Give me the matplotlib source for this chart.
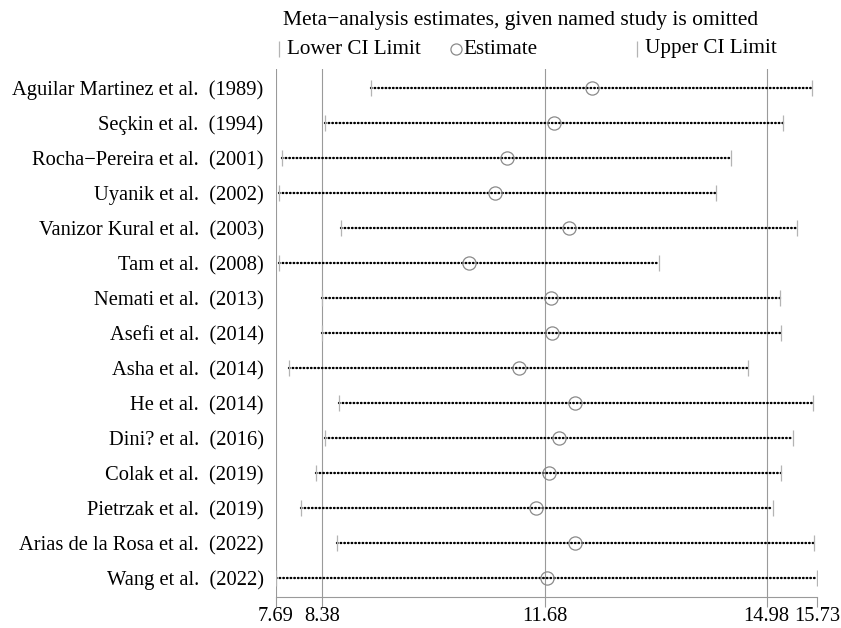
import numpy as np
import matplotlib.pyplot as plt
from matplotlib.lines import Line2D

plt.rcParams['font.family'] = ['Liberation Serif', 'DejaVu Serif']

studies = ["Aguilar Martinez et al.  (1989)", "Seçkin et al.  (1994)",
           "Rocha\u2212Pereira et al.  (2001)", "Uyanik et al.  (2002)",
           "Vanizor Kural et al.  (2003)", "Tam et al.  (2008)",
           "Nemati et al.  (2013)", "Asefi et al.  (2014)", "Asha et al.  (2014)",
           "He et al.  (2014)", "Dini? et al.  (2016)", "Colak et al.  (2019)",
           "Pietrzak et al.  (2019)", "Arias de la Rosa et al.  (2022)",
           "Wang et al.  (2022)"]
lower = [9.10, 8.42, 7.78, 7.74, 8.65, 7.73, 8.37, 8.37, 7.88, 8.62, 8.42, 8.28, 8.06, 8.59, 7.69]
estimate = [12.38, 11.82, 11.12, 10.95, 12.04, 10.56, 11.77, 11.79, 11.30, 12.14, 11.89, 11.74, 11.56, 12.14, 11.71]
upper = [15.66, 15.22, 14.45, 14.23, 15.43, 13.38, 15.18, 15.20, 14.71, 15.67, 15.38, 15.19, 15.07, 15.68, 15.73]

# pooled result with all studies
pooled_lo, pooled_est, pooled_hi = 8.38, 11.68, 14.98

xmin, xmax = min(lower), max(upper)
xticks = [xmin, pooled_lo, pooled_est, pooled_hi, xmax]

grey = '#9a9a9a'
light = '#b4b4b4'
fs = 14.8

fig = plt.figure(figsize=(8.41, 6.28), dpi=100)
ax = fig.add_axes([0.3282, 0.0494, 0.6433, 0.8407])

y = np.arange(len(studies))

for v in [xmin, pooled_lo, pooled_est, pooled_hi]:
    ax.axvline(v, color=grey, lw=0.8, zorder=1)

for i in range(len(studies)):
    ax.plot([lower[i], upper[i]], [y[i], y[i]], color='black', lw=1.7,
            linestyle=(0, (0.25, 1.3)), dash_capstyle='round', zorder=2)
ax.plot(lower, y, linestyle='none', marker='|', ms=12, mew=0.9, color=light, zorder=3)
ax.plot(upper, y, linestyle='none', marker='|', ms=12, mew=0.9, color=light, zorder=3)
ax.plot(estimate, y, linestyle='none', marker='o', ms=9.5, mfc='none', mec='#8a8a8a',
        mew=0.9, zorder=4)

ax.set_xlim(xmin, xmax)
ax.set_ylim(len(studies) - 0.46, -0.54)
ax.set_xticks(xticks)
ax.set_xticklabels(['%.2f' % v for v in xticks])
ax.set_yticks(y)
ax.set_yticklabels(studies)
ax.tick_params(axis='y', length=0, pad=9, labelsize=fs)
ax.tick_params(axis='x', length=7, color=grey, width=0.8, pad=0, labelsize=fs)
for s in ['left', 'top', 'right']:
    ax.spines[s].set_visible(False)
ax.spines['bottom'].set_color(grey)
ax.spines['bottom'].set_linewidth(0.8)

# header and key
fig.text(283 / 841, 1 - 20 / 628, "Meta\u2212analysis estimates, given named study is omitted",
         fontsize=15.5, va='center', ha='left')
ky = 1 - 49 / 628
fig.add_artist(Line2D([279 / 841], [ky], marker='|', ms=11, mew=0.9, color=light,
                      linestyle='none', transform=fig.transFigure))
fig.text(287 / 841, ky, "Lower CI Limit", fontsize=15.2, va='center', ha='left')
fig.add_artist(Line2D([456 / 841], [ky], marker='o', ms=8, mfc='none', mec='#8a8a8a',
                      mew=0.9, linestyle='none', transform=fig.transFigure))
fig.text(463 / 841, ky, "Estimate", fontsize=15.2, va='center', ha='left')
fig.add_artist(Line2D([637 / 841], [ky], marker='|', ms=11, mew=0.9, color=light,
                      linestyle='none', transform=fig.transFigure))
fig.text(645 / 841, ky, "Upper CI Limit", fontsize=15.2, va='center', ha='left')

plt.savefig('out.png', dpi=100)
